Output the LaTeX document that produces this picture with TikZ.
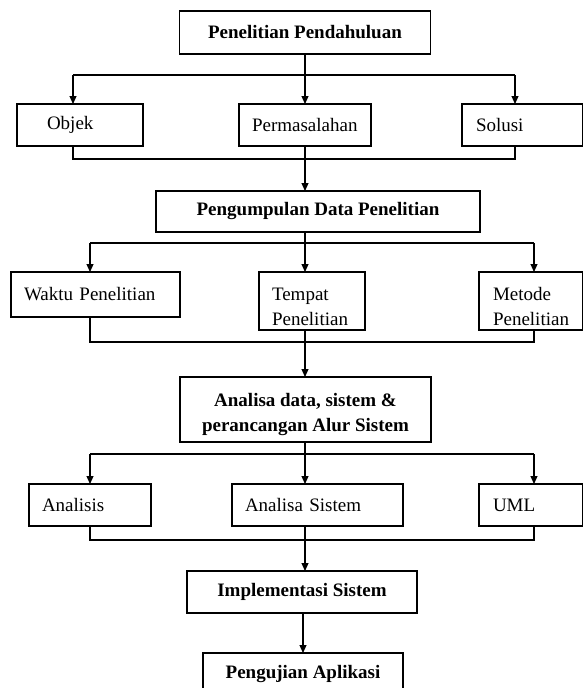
\documentclass[tikz,border=0pt]{standalone}
\usepackage{fontspec}
\setmainfont{Liberation Serif}
\usetikzlibrary{arrows.meta}
\begin{document}
\begin{tikzpicture}[x=1pt,y=-1pt,
  every node/.style={font=\fontsize{19}{25}\selectfont},
  box/.style={draw, line width=1.1pt, rectangle, inner ysep=0pt, outer sep=0pt},
  lbox/.style={box, align=left},
  cbox/.style={box, align=center, font=\fontsize{19}{25}\selectfont\bfseries},
  ln/.style={line width=1.1pt},
  arr/.style={line width=1.1pt, -{Triangle[length=8pt,width=7pt]}}
]
\useasboundingbox (0,0) rectangle (583,688);

% boxes
\node[cbox, minimum width=251pt, minimum height=43pt] (top) at (305,32.5) {Penelitian Pendahuluan};
\node[lbox, minimum height=42pt, text width=66pt, inner xsep=30pt] (objek) at (80,125) {Objek};
\node[lbox, minimum height=42pt, text width=106pt, inner xsep=13pt] (perm) at (305,125) {Permasalahan};
\node[lbox, minimum height=42pt, text width=92.5pt, inner xsep=14pt] (solusi) at (522.25,125) {Solusi};

\node[cbox, minimum width=324pt, minimum height=41pt] (peng) at (318,211.5) {Pengumpulan Data Penelitian};
\node[lbox, minimum height=45pt, text width=143pt, inner xsep=13pt] (waktu) at (95.5,294.5) {Waktu Penelitian};
\node[lbox, minimum height=58pt, text width=80pt, inner xsep=13pt] (tempat) at (312,301) {\rule{0pt}{25pt}Tempat\\Penelitian};
\node[lbox, minimum height=58pt, text width=75.5pt, inner xsep=14pt] (metode) at (530.75,301) {\rule{0pt}{25pt}Metode\\Penelitian};

\node[cbox, minimum width=251pt, minimum height=65pt] (anadata) at (305.5,409.5) {\rule{0pt}{23pt}Analisa data, sistem \&\\perancangan Alur Sistem};
\node[lbox, minimum height=42pt, text width=96pt, inner xsep=13pt] (analisis) at (90,505) {Analisis};
\node[lbox, minimum height=42pt, text width=145pt, inner xsep=13pt] (anasis) at (317.5,505) {Analisa Sistem};
\node[lbox, minimum height=42pt, text width=75.5pt, inner xsep=14pt] (uml) at (530.75,505) {UML};

\node[cbox, minimum width=230pt, minimum height=42pt] (impl) at (302,592) {Implementasi Sistem};
\node[cbox, minimum width=200pt, minimum height=42pt] (uji) at (303,674) {Pengujian Aplikasi};

% trunk x
\coordinate (t) at (305,0);

% level 1
\coordinate (b1l) at (73,75);
\coordinate (b1r) at (515,75);
\draw[ln] (b1l) -- (b1r);
\draw[arr] (top.south -| t) -- (perm.north -| t);
\draw[arr] (b1l) -- (b1l |- objek.north);
\draw[arr] (b1r) -- (b1r |- solusi.north);
\coordinate (m1l) at (73,159);
\coordinate (m1r) at (515,159);
\draw[ln] (m1l |- objek.south) -- (m1l) -- (m1r) -- (m1r |- solusi.south);
\draw[arr] (perm.south -| t) -- (peng.north -| t);

% level 2
\coordinate (b2l) at (90,243);
\coordinate (b2r) at (534,243);
\draw[ln] (b2l) -- (b2r);
\draw[arr] (peng.south -| t) -- (tempat.north -| t);
\draw[arr] (b2l) -- (b2l |- waktu.north);
\draw[arr] (b2r) -- (b2r |- metode.north);
\coordinate (m2l) at (90,342);
\coordinate (m2r) at (534,342);
\draw[ln] (m2l |- waktu.south) -- (m2l) -- (m2r) -- (m2r |- metode.south);
\draw[arr] (tempat.south -| t) -- (anadata.north -| t);

% level 3
\coordinate (b3l) at (90,454);
\coordinate (b3r) at (534,454);
\draw[ln] (b3l) -- (b3r);
\draw[arr] (anadata.south -| t) -- (anasis.north -| t);
\draw[arr] (b3l) -- (b3l |- analisis.north);
\draw[arr] (b3r) -- (b3r |- uml.north);
\coordinate (m3l) at (90,540);
\coordinate (m3r) at (534,540);
\draw[ln] (m3l |- analisis.south) -- (m3l) -- (m3r) -- (m3r |- uml.south);
\draw[arr] (anasis.south -| t) -- (impl.north -| t);

% final
\coordinate (t2) at (303,0);
\draw[arr] (impl.south -| t2) -- (uji.north -| t2);
\end{tikzpicture}
\end{document}
